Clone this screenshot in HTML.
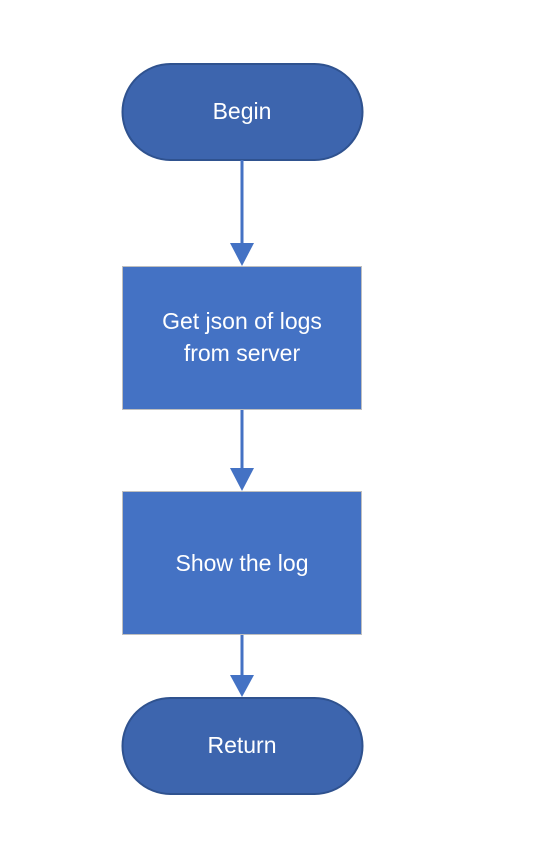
<!DOCTYPE html>
<html><head><style>
html,body{margin:0;padding:0;background:#fff;width:550px;height:865px;overflow:hidden}
</style></head><body>
<svg width="550" height="865" xmlns="http://www.w3.org/2000/svg" font-family="Liberation Sans, sans-serif">
<rect x="122.5" y="64" width="240" height="96" rx="48" fill="#3d65ae" stroke="#2f528f" stroke-width="2"/>
<text x="242" y="119" fill="#fff" font-size="23" text-anchor="middle">Begin</text>
<line x1="242" y1="160" x2="242" y2="244" stroke="#4472c4" stroke-width="3"/>
<polygon points="230,243 254,243 242,266" fill="#4472c4"/>
<rect x="122.5" y="266.5" width="239" height="143" fill="#4472c4" stroke="#bfbfbf" stroke-width="1"/>
<text x="242" y="329" fill="#fff" font-size="23" text-anchor="middle">Get json of logs</text>
<text x="242" y="361" fill="#fff" font-size="23" text-anchor="middle">from server</text>
<line x1="242" y1="410" x2="242" y2="469" stroke="#4472c4" stroke-width="3"/>
<polygon points="230,468 254,468 242,491" fill="#4472c4"/>
<rect x="122.5" y="491.5" width="239" height="143" fill="#4472c4" stroke="#bfbfbf" stroke-width="1"/>
<text x="242" y="571" fill="#fff" font-size="23" text-anchor="middle">Show the log</text>
<line x1="242" y1="635" x2="242" y2="676" stroke="#4472c4" stroke-width="3"/>
<polygon points="230,675 254,675 242,697" fill="#4472c4"/>
<rect x="122.5" y="698" width="240" height="96" rx="48" fill="#3d65ae" stroke="#2f528f" stroke-width="2"/>
<text x="242" y="753" fill="#fff" font-size="23" text-anchor="middle">Return</text>
</svg>
</body></html>
